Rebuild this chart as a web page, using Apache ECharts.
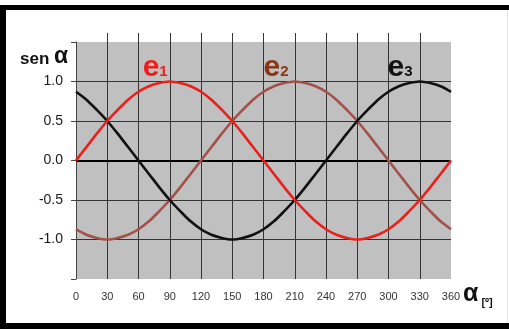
<!DOCTYPE html>
<html><head><meta charset="utf-8">
<script src="https://cdn.jsdelivr.net/npm/echarts@6/dist/echarts.min.js"></script>
<style>html,body{margin:0;padding:0;background:#fff}#c{width:509px;height:329px}</style>
</head><body><div id="c"></div>
<script>
const angles = [0,10,20,30,40,50,60,70,80,90,100,110,120,130,140,150,160,170,180,190,200,210,220,230,240,250,260,270,280,290,300,310,320,330,340,350,360];
const e1 = [0,0.17,0.34,0.5,0.64,0.77,0.87,0.94,0.98,1.0,0.98,0.94,0.87,0.77,0.64,0.5,0.34,0.17,0,-0.17,-0.34,-0.5,-0.64,-0.77,-0.87,-0.94,-0.98,-1.0,-0.98,-0.94,-0.87,-0.77,-0.64,-0.5,-0.34,-0.17,0];
const e2 = [-0.87,-0.94,-0.98,-1.0,-0.98,-0.94,-0.87,-0.77,-0.64,-0.5,-0.34,-0.17,0,0.17,0.34,0.5,0.64,0.77,0.87,0.94,0.98,1.0,0.98,0.94,0.87,0.77,0.64,0.5,0.34,0.17,0,-0.17,-0.34,-0.5,-0.64,-0.77,-0.87];
const e3 = [0.87,0.77,0.64,0.5,0.34,0.17,0,-0.17,-0.34,-0.5,-0.64,-0.77,-0.87,-0.94,-0.98,-1.0,-0.98,-0.94,-0.87,-0.77,-0.64,-0.5,-0.34,-0.17,0,0.17,0.34,0.5,0.64,0.77,0.87,0.94,0.98,1.0,0.98,0.94,0.87];
const xTicks = [0,30,60,90,120,150,180,210,240,270,300,330,360];
const seriesNames = ['e1','e2','e3'];
const seriesColors = ['#e8211c','#a2514b','#111111'];
const labelColors = ['#ee1c1c','#8a3515','#111111'];
const labelPos = [[76,1.2],[192,1.2],[311,1.2]];

const chart = echarts.init(document.getElementById('c'));
const font = 'Liberation Sans, Arial, sans-serif';
function mk(vals){ return angles.map((a,i)=>[a,vals[i]]); }
const all = [e1,e2,e3];
const series = all.map((v,i)=>({
  name: seriesNames[i], type:'line', data: mk(v), smooth:0.3, showSymbol:false, symbol:'none',
  lineStyle:{color:seriesColors[i], width:2.6}, z: 5 + (i===0?2:(i===2?1:0)),
  markPoint:{
    symbol:'circle', symbolSize:1, itemStyle:{color:'rgba(0,0,0,0)'},
    label:{show:true, position:'inside',
      formatter:'{e|e}{n|'+(i+1)+'}',
      rich:{
        e:{fontFamily:font, fontSize:30, fontWeight:'bold', color:labelColors[i], lineHeight:34, verticalAlign:'bottom'},
        n:{fontFamily:font, fontSize:15, fontWeight:'bold', color:labelColors[i], lineHeight:34, verticalAlign:'bottom', padding:[0,0,3,0]}
      }},
    data:[{coord:labelPos[i]}]
  }
}));
series[0].markLine = {silent:true, symbol:'none', label:{show:false},
  lineStyle:{color:'#000', width:2, type:'solid'}, data:[{yAxis:0}], z:3};

chart.setOption({
  animation:false,
  grid:{left:76, right:58, top:42, bottom:50, show:true, backgroundColor:'#c0c0c0', borderWidth:0},
  xAxis:[{
    type:'value', min:0, max:360, interval:30, position:'bottom',
    axisLine:{show:false}, axisTick:{show:false},
    axisLabel:{fontFamily:font, fontSize:11, color:'#333', margin:12, formatter:v=>String(v)},
    splitLine:{show:true, showMinLine:false, showMaxLine:false, lineStyle:{color:'#333', width:1}}
  },{
    type:'value', min:0, max:360, interval:30, position:'top',
    axisLine:{show:false}, axisLabel:{show:false}, splitLine:{show:false},
    axisTick:{show:true, length:9, customValues:[30,60,90,120,150,180,210,240,270,300,330], lineStyle:{color:'#333'}}
  }],
  yAxis:{
    type:'value', min:-1.5, max:1.5, interval:0.5,
    axisLine:{show:true, lineStyle:{color:'#444', width:1}},
    axisTick:{show:true, length:5, lineStyle:{color:'#444'}},
    axisLabel:{fontFamily:font, fontSize:14, color:'#1a1a1a', margin:13,
      formatter:v=> (Math.abs(v)>1.01 ? '' : v.toFixed(1))},
    splitLine:{show:true, showMinLine:false, showMaxLine:false, lineStyle:{color:'#333', width:1}}
  },
  series: series,
  graphic:[
    {type:'rect', shape:{x:0,y:5,width:509,height:5}, style:{fill:'#000'}, z:100},
    {type:'rect', shape:{x:0,y:5,width:6,height:324}, style:{fill:'#000'}, z:100},
    {type:'rect', shape:{x:0,y:323,width:509,height:6}, style:{fill:'#000'}, z:100},
    {type:'rect', shape:{x:507,y:10,width:1,height:313}, style:{fill:'#e4e4e4'}, z:100},
    {type:'text', left:20, top:45, z:100, style:{
      text:'{s|sen }{a|α}',
      rich:{s:{fontFamily:font, fontSize:17, fontWeight:'bold', fill:'#111', verticalAlign:'bottom', lineHeight:24},
            a:{fontFamily:font, fontSize:23, fontWeight:'bold', fill:'#111', verticalAlign:'bottom', lineHeight:24}}}},
    {type:'text', left:463, top:282, z:100, style:{
      text:'{a|α}{s| [º]}',
      rich:{a:{fontFamily:font, fontSize:25, fontWeight:'bold', fill:'#111', verticalAlign:'bottom', lineHeight:26},
            s:{fontFamily:font, fontSize:11, fontWeight:'bold', fill:'#111', verticalAlign:'bottom', lineHeight:26, padding:[0,0,-1,0]}}}}
  ]
});
</script></body></html>
